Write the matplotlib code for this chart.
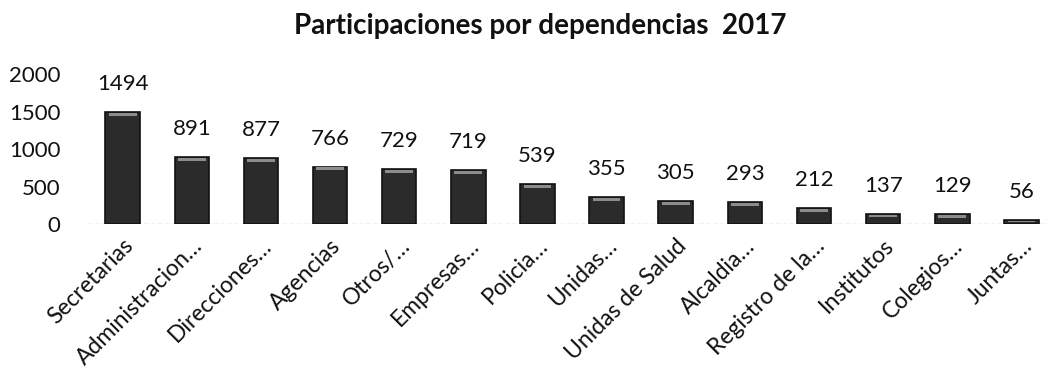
import matplotlib.pyplot as plt

plt.rcParams['font.family'] = ['Lato', 'DejaVu Sans']

dependencias = ["Secretarias", "Administracion…", "Direcciones…", "Agencias",
                "Otros/…", "Empresas…", "Policia…", "Unidas…",
                "Unidas de Salud", "Alcaldia…", "Registro de la…",
                "Institutos", "Colegios…", "Juntas…"]
participaciones = [1494, 891, 877, 766, 729, 719, 539, 355, 305, 293, 212,
                   137, 129, 56]

fig = plt.figure(figsize=(10.49, 3.74), dpi=100)
ax = fig.add_axes([0.084, 0.401, 0.916, 0.401])

x = range(len(dependencias))
ax.bar(x, participaciones, width=0.5, color="#2b2b2b", edgecolor="#111111",
       linewidth=1.2, zorder=2)
# light band just under the top edge of each bar
band = [min(40, v * 0.25) for v in participaciones]
ax.bar(x, band, bottom=[v - b - 12 for v, b in zip(participaciones, band)],
       width=0.4, color="#8c8c8c", linewidth=0, zorder=3)

for i, v in enumerate(participaciones):
    ax.annotate(str(v), (i, v), xytext=(0, 13), textcoords="offset points",
                ha="center", va="bottom", fontsize=16, color="#111111")

ax.axhline(0, color="#bbbbbb", linewidth=1, linestyle=(0, (3, 2)), zorder=1)

ax.set_ylim(0, 2000)
ax.set_xlim(-0.5, 13.4)
ax.set_yticks([0, 500, 1000, 1500, 2000])
ax.tick_params(axis="y", length=0, labelsize=16, pad=20, labelcolor="#111111")
ax.set_xticks(list(x))
ax.set_xticklabels(dependencias, rotation=45, ha="right",
                   rotation_mode="anchor", fontsize=16.5, color="#111111")
ax.tick_params(axis="x", length=0, pad=8)
for s in ax.spines.values():
    s.set_visible(False)

fig.suptitle("Participaciones por dependencias  2017", x=0.515, y=0.965,
             fontsize=20, fontweight="bold", color="#111111")

fig.savefig("out.png", dpi=100, facecolor="white")
